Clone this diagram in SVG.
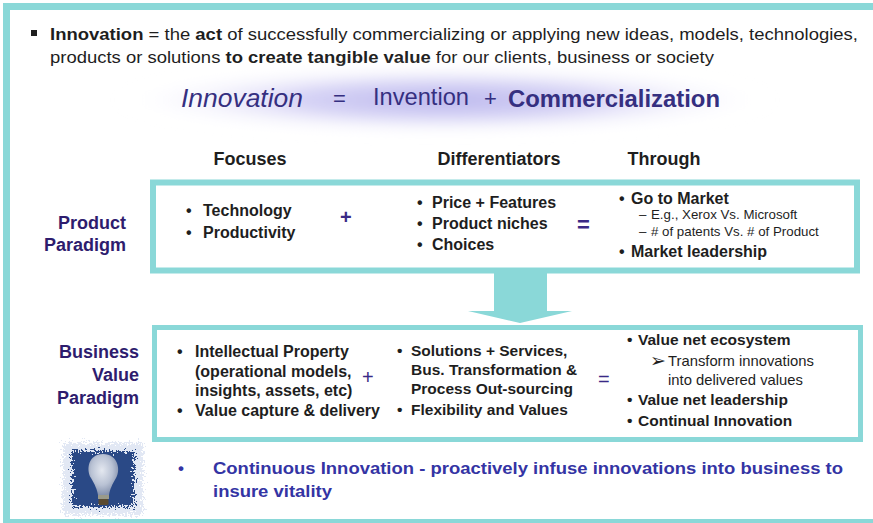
<svg xmlns="http://www.w3.org/2000/svg" width="873" height="523" viewBox="0 0 873 523">
  <defs>
    <style>
      .frame { fill: #8ad8d8; }
      .box { fill: #ffffff; stroke: #8ad8d8; }
      .t { font-family: "Liberation Sans", Arial, sans-serif; fill: #1e1e1e; }
      .b { font-weight: bold; }
      .hdr { font-size: 18px; font-weight: bold; }
      .lbl { font-size: 18px; font-weight: bold; fill: #2e1c6e; text-anchor: end; }
      .item { font-size: 16px; font-weight: bold; }
      .item2 { font-size: 15.5px; font-weight: bold; }
      .sub { font-size: 13.3px; }
      .op { font-family: "Liberation Sans", Arial, sans-serif; fill: #3a2a86; }
      .eq { font-family: "Liberation Sans", Arial, sans-serif; fill: #352f80; }
      .foot { font-family: "Liberation Sans", Arial, sans-serif; font-size: 17px; font-weight: bold; fill: #3434a4; }
    </style>
    <radialGradient id="glow" cx="0.5" cy="0.5" r="0.5">
      <stop offset="0" stop-color="#bcb8ee"/>
      <stop offset="0.45" stop-color="#d6d3f5"/>
      <stop offset="1" stop-color="#ffffff" stop-opacity="0"/>
    </radialGradient>
    <filter id="soft" x="-20%" y="-50%" width="140%" height="200%">
      <feGaussianBlur stdDeviation="6"/>
    </filter>
    <filter id="frost" x="-10%" y="-10%" width="120%" height="120%">
      <feTurbulence type="fractalNoise" baseFrequency="0.55" numOctaves="2" seed="3" result="n"/>
      <feDisplacementMap in="SourceGraphic" in2="n" scale="16" xChannelSelector="R" yChannelSelector="G"/>
    </filter>
    <radialGradient id="glass" cx="0.45" cy="0.4" r="0.6">
      <stop offset="0" stop-color="#e4e8f0"/>
      <stop offset="0.6" stop-color="#b9c2d4"/>
      <stop offset="1" stop-color="#8592ae"/>
    </radialGradient>
  </defs>

  <rect width="873" height="523" fill="#ffffff"/>

  <!-- outer frame (open on the right) -->
  <g id="frame">
    <rect class="frame" x="3" y="3" width="870" height="7"/>
    <rect class="frame" x="3" y="3" width="7" height="520"/>
    <rect class="frame" x="3" y="519" width="870" height="4"/>
  </g>

  <!-- definition -->
  <g id="definition">
    <rect x="31" y="30" width="6" height="6" fill="#1e1e1e"/>
    <text class="t" x="50" y="40" font-size="17" textLength="808" lengthAdjust="spacingAndGlyphs"><tspan class="b">Innovation</tspan> = the <tspan class="b">act</tspan> of successfully commercializing or applying new ideas, models, technologies,</text>
    <text class="t" x="50" y="63" font-size="17" textLength="664" lengthAdjust="spacingAndGlyphs">products or solutions <tspan class="b">to create tangible value</tspan> for our clients, business or society</text>
  </g>

  <!-- equation with glow -->
  <g id="equation">
    <ellipse cx="445" cy="100" rx="330" ry="36" fill="url(#glow)" filter="url(#soft)"/>
    <text class="eq" x="181" y="107" font-size="25" font-style="italic" textLength="122" lengthAdjust="spacingAndGlyphs">Innovation</text>
    <text class="eq" x="333" y="106" font-size="22">=</text>
    <text class="eq" x="373" y="105" font-size="23.5" textLength="96" lengthAdjust="spacingAndGlyphs">Invention</text>
    <text class="eq" x="484" y="106" font-size="22">+</text>
    <text class="eq" x="508" y="107" font-size="23" font-weight="bold" fill="#2f1f66" textLength="212" lengthAdjust="spacingAndGlyphs">Commercialization</text>
  </g>

  <!-- column headers -->
  <g id="headers">
    <text class="t hdr" x="250" y="165" text-anchor="middle">Focuses</text>
    <text class="t hdr" x="499" y="165" text-anchor="middle">Differentiators</text>
    <text class="t hdr" x="664" y="165" text-anchor="middle">Through</text>
  </g>

  <!-- product paradigm row -->
  <g id="product-paradigm">
    <text class="t lbl" x="126" y="229">Product</text>
    <text class="t lbl" x="126" y="251">Paradigm</text>
    <rect class="box" x="153" y="182.5" width="704" height="88" stroke-width="6"/>
    <text class="t item" x="186" y="216">•</text>
    <text class="t item" x="203" y="216">Technology</text>
    <text class="t item" x="186" y="238">•</text>
    <text class="t item" x="203" y="238">Productivity</text>
    <text class="op" x="340" y="224" font-size="20" font-weight="bold">+</text>
    <text class="t item" x="417" y="208">•</text>
    <text class="t item" x="432" y="208">Price + Features</text>
    <text class="t item" x="417" y="229">•</text>
    <text class="t item" x="432" y="229">Product niches</text>
    <text class="t item" x="417" y="250">•</text>
    <text class="t item" x="432" y="250">Choices</text>
    <text class="op" x="577" y="232" font-size="22" font-weight="bold">=</text>
    <text class="t item" x="619" y="204">•</text>
    <text class="t item" x="631" y="204">Go to Market</text>
    <text class="t sub" x="639" y="219">–</text>
    <text class="t sub" x="651" y="219">E.g., Xerox Vs. Microsoft</text>
    <text class="t sub" x="639" y="236">–</text>
    <text class="t sub" x="651" y="236"># of patents Vs. # of Product</text>
    <text class="t item" x="619" y="257">•</text>
    <text class="t item" x="631" y="257">Market leadership</text>
  </g>

  <!-- transition arrow -->
  <g id="connectors">
    <polygon class="frame" points="494,273 547,273 547,311 572,311 520,323 468,311 494,311"/>
  </g>

  <!-- business value paradigm row -->
  <g id="business-value-paradigm">
    <text class="t lbl" x="139" y="358">Business</text>
    <text class="t lbl" x="139" y="381">Value</text>
    <text class="t lbl" x="139" y="404">Paradigm</text>
    <rect class="box" x="154.5" y="327.5" width="706" height="112" stroke-width="5"/>
    <text class="t item" x="177" y="357">•</text>
    <text class="t item" x="195" y="357">Intellectual Property</text>
    <text class="t item" x="195" y="377">(operational models,</text>
    <text class="t item" x="195" y="396">insights, assets, etc)</text>
    <text class="t item" x="177" y="416">•</text>
    <text class="t item" x="195" y="416">Value capture &amp; delivery</text>
    <text class="op" x="362" y="384" font-size="20">+</text>
    <text class="t item2" x="397" y="356">•</text>
    <text class="t item2" x="411" y="356">Solutions + Services,</text>
    <text class="t item2" x="411" y="375">Bus. Transformation &amp;</text>
    <text class="t item2" x="411" y="394">Process Out-sourcing</text>
    <text class="t item2" x="397" y="415">•</text>
    <text class="t item2" x="411" y="415">Flexibility and Values</text>
    <text class="op" x="598" y="386" font-size="20">=</text>
    <text class="t item2" x="627" y="345">•</text>
    <text class="t item2" x="638" y="345">Value net ecosystem</text>
    <text class="t" x="650" y="367" font-size="19" font-family="DejaVu Sans, sans-serif">➢</text>
    <text class="t" x="668" y="366" font-size="14.8">Transform innovations</text>
    <text class="t" x="668" y="385" font-size="14.8">into delivered values</text>
    <text class="t item2" x="627" y="405">•</text>
    <text class="t item2" x="638" y="405">Value net leadership</text>
    <text class="t item2" x="627" y="426">•</text>
    <text class="t item2" x="638" y="426">Continual Innovation</text>
  </g>

  <!-- light bulb picture -->
  <g id="bulb">
    <g filter="url(#frost)">
      <rect x="63" y="443" width="80" height="72" fill="#e2e8f4"/>
      <rect x="72" y="451" width="62" height="56" fill="#2a4a86"/>
    </g>
    <path d="M103,454 C88,454 86,470 91,478 C95,485 97,489 98,495 L109,495 C110,489 112,485 116,478 C121,470 118,454 103,454 Z" fill="url(#glass)"/>
    <rect x="98" y="495" width="11" height="4" fill="#9a9a8a"/>
    <rect x="98.5" y="499" width="10" height="6" rx="1.5" fill="#5a4a30"/>
  </g>

  <!-- closing statement -->
  <g id="statement">
    <text class="foot" x="178" y="474">•</text>
    <text class="foot" x="213" y="474" textLength="630" lengthAdjust="spacingAndGlyphs">Continuous Innovation - proactively infuse innovations into business to</text>
    <text class="foot" x="213" y="497" textLength="119" lengthAdjust="spacingAndGlyphs">insure vitality</text>
  </g>
</svg>
